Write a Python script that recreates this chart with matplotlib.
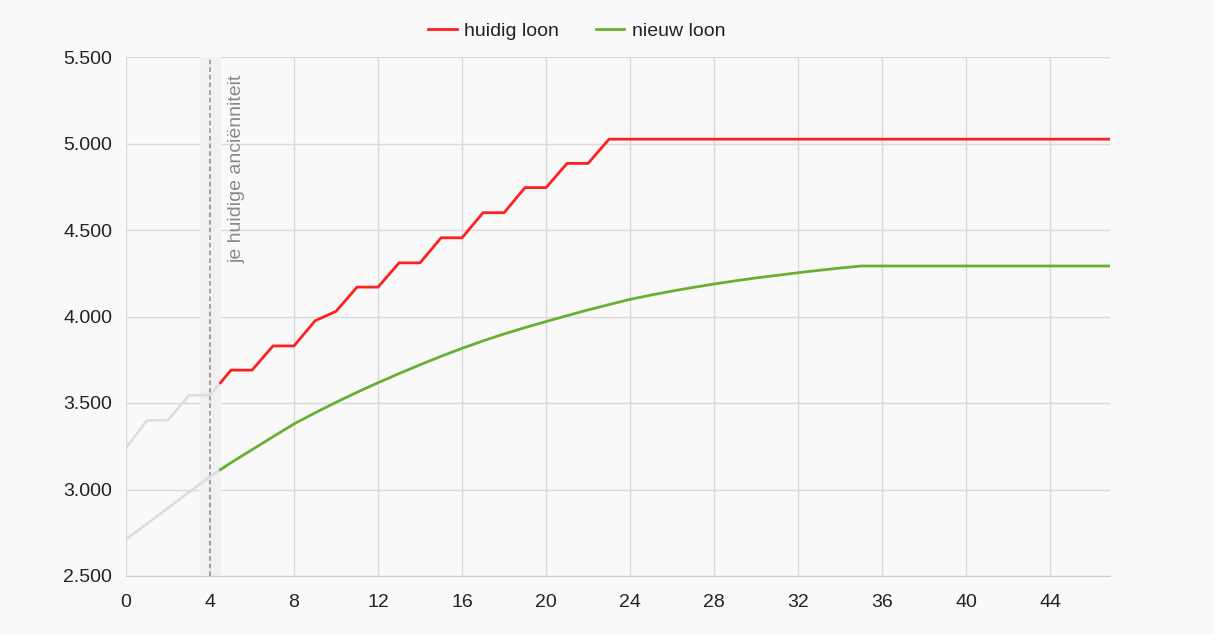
import numpy as np
import matplotlib
matplotlib.use('Agg')
import matplotlib.pyplot as plt
from matplotlib.ticker import FuncFormatter, MultipleLocator

plt.rcParams['font.family'] = ['Liberation Sans', 'DejaVu Sans']

# years of seniority (anciënniteit)
years = np.arange(0, 48)

# current salary: step every year / two years, capped after year 23
huidig = [3240, 3400, 3400, 3545, 3545, 3690, 3690, 3830, 3830, 3975,
          4030, 4170, 4170, 4310, 4310, 4455, 4455, 4600, 4600, 4745,
          4745, 4885, 4885, 5025] + [5025] * 24

# new salary: smooth curve, capped after year 35
nieuw = [2712, 2802, 2893, 2984, 3075, 3155, 3230, 3305, 3379, 3443,
         3504, 3562, 3617, 3670, 3721, 3770, 3816, 3859, 3899, 3936,
         3971, 4005, 4038, 4069, 4099, 4124, 4147, 4168, 4188, 4206,
         4223, 4238, 4253, 4267, 4280, 4292] + [4292] * 12

huidige_anc = 4
label_huidig = 'huidig loon'
label_nieuw = 'nieuw loon'
label_anc = 'je huidige anciënniteit'

bg = '#f9f9f9'
red = '#ff2020'
green = '#66b032'
past = '#dddddd'
fs = 14

fig = plt.figure(figsize=(12.14, 6.34), dpi=100, facecolor=bg)
ax = fig.add_axes([126 / 1214, 58 / 634, 984 / 1214, 519 / 634])
ax.set_facecolor(bg)

# split every series at the end of the current year band
split = huidige_anc + 0.5
x = years.astype(float)
for vals, col, lab in [(huidig, red, label_huidig), (nieuw, green, label_nieuw)]:
    vals = np.asarray(vals, dtype=float)
    ys = np.interp(split, x, vals)
    m_past = x < split
    ax.plot(np.append(x[m_past], split), np.append(vals[m_past], ys),
            color=past, lw=1.8, zorder=3)
    ax.plot(np.insert(x[~m_past], 0, split), np.insert(vals[~m_past], 0, ys),
            color=col, lw=2.0, zorder=4, label=lab)

ax.axvspan(huidige_anc - 0.5, huidige_anc + 0.5, color='#f1f1f1', zorder=1, lw=0)
ax.axvline(huidige_anc, color='#8a8a8a', lw=1.1, ls=(0, (3, 2)), zorder=2)
ax.text(huidige_anc + 1.3, 5400, label_anc, rotation=90, ha='center', va='top',
        fontsize=fs, color='#8a8a8a')

ax.set_xlim(0, 46.85)
ax.set_ylim(2500, 5500)
ax.xaxis.set_major_locator(MultipleLocator(4))
ax.yaxis.set_major_locator(MultipleLocator(500))
ax.yaxis.set_major_formatter(FuncFormatter(lambda v, p: f'{int(v):,}'.replace(',', '.')))
ax.grid(True, color='#dadada', lw=1, zorder=0)
ax.set_axisbelow(True)
for s in ['top', 'right', 'left']:
    ax.spines[s].set_visible(False)
ax.spines['bottom'].set_color('#cccccc')
ax.tick_params(length=0, labelsize=fs, colors='#222222')
ax.tick_params(axis='x', pad=13)
ax.tick_params(axis='y', pad=10)

fig.legend(loc='center', bbox_to_anchor=(577 / 1214, 1 - 31 / 634), ncol=2,
           frameon=False, fontsize=fs, handlelength=1.45, handletextpad=0.4,
           columnspacing=1.9, labelcolor='#222222')

fig.savefig('out.png', dpi=100, facecolor=bg)
